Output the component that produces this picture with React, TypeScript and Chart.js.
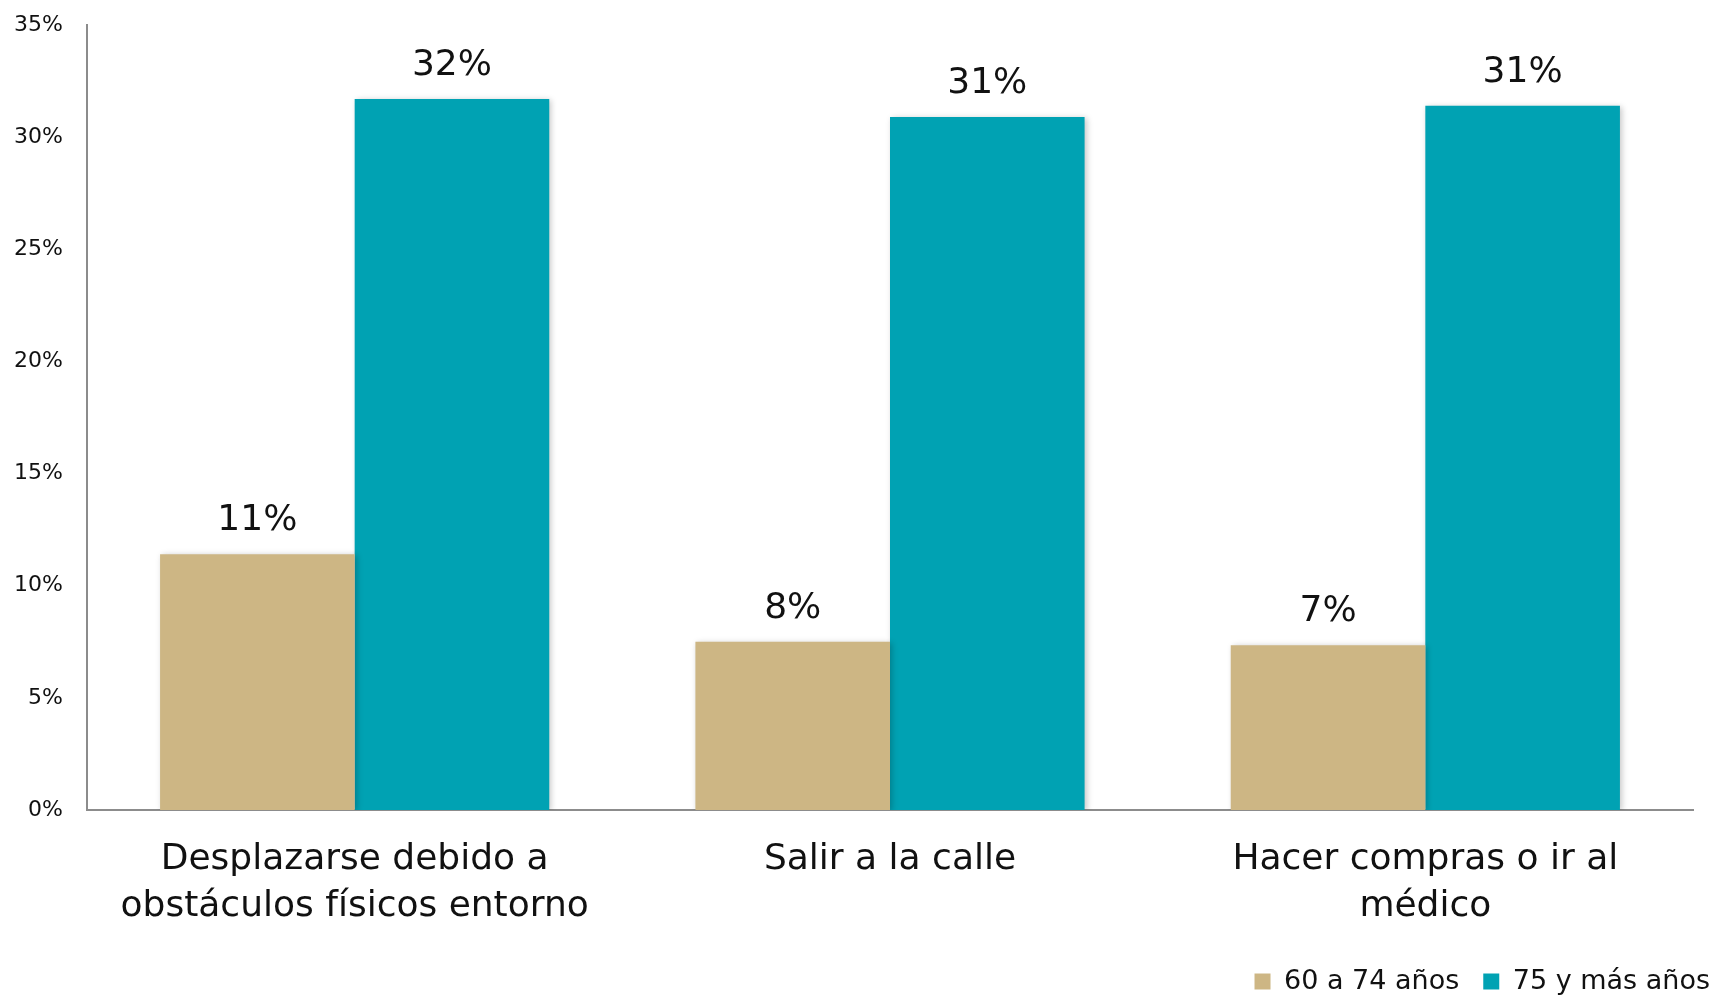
import React, { useEffect, useRef } from "react";
import { Chart, registerables } from "chart.js";

Chart.register(...registerables);

const categories: string[][] = [
  ["Desplazarse debido a", "obstáculos físicos entorno"],
  ["Salir a la calle"],
  ["Hacer compras o ir al", "médico"],
];
const seriesNames = ["60 a 74 años", "75 y más años"];
const values6074 = [11.4, 7.5, 7.35];
const values75 = [31.7, 30.9, 31.4];
const colors = ["#CDB684", "#00A2B3"];
const yTicks = [0, 5, 10, 15, 20, 25, 30, 35];

const FONT = "'DejaVu Sans', sans-serif";

const shadowPlugin = {
  id: "barShadow",
  beforeDatasetDraw(chart: any) {
    const ctx = chart.ctx;
    ctx.save();
    ctx.shadowColor = "rgba(0,0,0,0.22)";
    ctx.shadowBlur = 6;
    ctx.shadowOffsetX = 2;
    ctx.shadowOffsetY = 1;
  },
  afterDatasetDraw(chart: any) {
    chart.ctx.restore();
  },
};

const labelPlugin = {
  id: "valueLabels",
  afterDatasetsDraw(chart: any) {
    const ctx = chart.ctx;
    ctx.save();
    ctx.font = `36px ${FONT}`;
    ctx.fillStyle = "#111";
    ctx.textAlign = "center";
    ctx.textBaseline = "alphabetic";
    chart.data.datasets.forEach((ds: any, i: number) => {
      const meta = chart.getDatasetMeta(i);
      meta.data.forEach((bar: any, j: number) => {
        const v = ds.data[j] as number;
        ctx.fillText(`${Math.round(v)}%`, bar.x, bar.y - 24);
      });
    });
    ctx.restore();
  },
};

export default function App() {
  const ref = useRef<HTMLCanvasElement>(null);
  useEffect(() => {
    document.body.style.margin = "0";
    const chart = new Chart(ref.current!, {
      type: "bar",
      data: {
        labels: categories,
        datasets: [
          { label: seriesNames[0], data: values6074, backgroundColor: colors[0] },
          { label: seriesNames[1], data: values75, backgroundColor: colors[1] },
        ],
      },
      options: {
        animation: false,
        responsive: false,
        maintainAspectRatio: false,
        layout: { padding: { top: 25, right: -21, left: 0, bottom: -8 } },
        datasets: { bar: { barPercentage: 1, categoryPercentage: 0.727 } },
        plugins: {
          legend: {
            position: "bottom",
            align: "end",
            labels: {
              boxWidth: 16,
              boxHeight: 16,
              font: { family: FONT, size: 27 },
              color: "#111",
              padding: 24,
            },
          },
          tooltip: { enabled: false },
        },
        scales: {
          x: {
            grid: { display: false, drawTicks: false },
            border: { display: true, color: "#8c8c8c", width: 2 },
            ticks: {
              font: { family: FONT, size: 36, lineHeight: 1.3 },
              color: "#111",
              padding: 26,
              maxRotation: 0,
              autoSkip: false,
            },
            afterFit(scale: any) {
              scale.height = 134;
            },
          },
          y: {
            min: 0,
            max: 35,
            grid: { display: false, drawTicks: false },
            border: { display: true, color: "#8c8c8c", width: 2 },
            afterBuildTicks(scale: any) {
              scale.ticks = yTicks.map((v) => ({ value: v }));
            },
            ticks: {
              font: { family: FONT, size: 22 },
              color: "#111",
              padding: 24,
              callback: (v: any) => `${v}%`,
            },
            afterFit(scale: any) {
              scale.width = 87;
              scale.paddingTop = 0;
              scale.paddingBottom = 0;
            },
          },
          yRight: {
            type: "linear",
            position: "right",
            display: true,
            grid: { display: false, drawTicks: false },
            border: { display: false },
            ticks: { display: false },
            afterFit(scale: any) {
              scale.width = 41;
              scale.paddingTop = 0;
              scale.paddingBottom = 0;
            },
          },
        },
      },
      plugins: [shadowPlugin, labelPlugin],
    });
    return () => chart.destroy();
  }, []);
  return (
    <div style={{ width: 1713, height: 997 }}>
      <canvas ref={ref} width={1713} height={997} style={{ display: "block" }} />
    </div>
  );
}
